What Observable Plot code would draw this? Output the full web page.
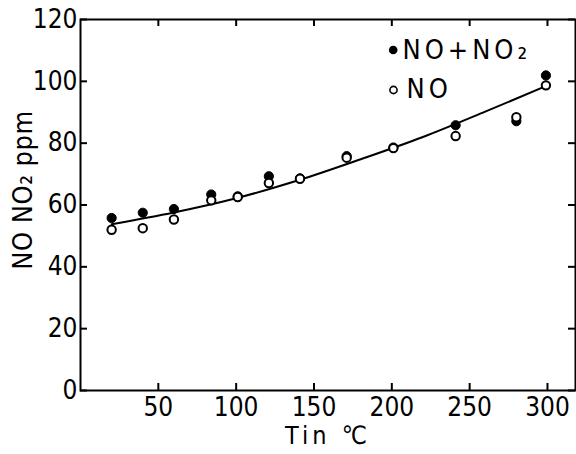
<!DOCTYPE html>
<html>
<head>
<meta charset="utf-8">
<script src="https://cdn.jsdelivr.net/npm/d3@7"></script>
<script src="https://cdn.jsdelivr.net/npm/@observablehq/plot@0.6"></script>
<style>
  html, body { margin: 0; padding: 0; background: #fff; }
  #chart svg { display: block; }
  .sp4 text, text.sp4 { letter-spacing: 4px; }
  .sp1 text, text.sp1 { letter-spacing: 0.5px; }
</style>
</head>
<body>
<div id="chart"></div>
<script>
// Data
const temps   = [20, 40, 60, 84, 101, 121, 141, 171, 201, 241, 280, 299];
const noTotal = [55.8, 57.5, 58.7, 63.4, 62.8, 69.3, 68.6, 75.8, 78.6, 85.8, 87.1, 101.9]; // NO+NO2 (filled)
const noOnly  = [52.0, 52.5, 55.3, 61.5, 62.6, 67.1, 68.5, 75.3, 78.4, 82.3, 88.4, 98.7];  // NO (open)
const fitX = [20, 60, 100, 140, 180, 220, 260, 300];
const fitY = [53.8, 57.6, 62.2, 68.0, 74.8, 82.0, 90.2, 98.7];
const xTicks = [50, 100, 150, 200, 250, 300];
const yTicks = [0, 20, 40, 60, 80, 100, 120];
const legendLabels = ["NO+NO₂", "NO"];
const yLabel = "NO NO₂ ppm";
const xLabel = "Tin ℃";

const totalData = temps.map((t, i) => ({t, v: noTotal[i]}));
const noData = temps.map((t, i) => ({t, v: noOnly[i]}));
const fitData = fitX.map((t, i) => ({t, v: fitY[i]}));

const W = 576, H = 454, mL = 80, mR = 1, mT = 19, mB = 64;
const frameW = W - mL - mR, frameH = H - mT - mB, tick = 7;

const font = "'DejaVu Sans Condensed', 'DejaVu Sans', sans-serif";

const chart = Plot.plot({
  width: W,
  height: H,
  marginLeft: mL,
  marginRight: mR,
  marginTop: mT,
  marginBottom: mB,
  style: {fontFamily: font, fontSize: "26px", color: "#000", background: "#fff"},
  x: {domain: [0, 318]},
  y: {domain: [0, 120]},
  marks: [
    Plot.frame({stroke: "#000", strokeWidth: 2}),
    Plot.axisX({ticks: xTicks, tickSize: 0, tickPadding: 7, label: null, fontSize: 26}),
    Plot.axisY({ticks: yTicks, tickSize: 0, tickPadding: 3, label: null, fontSize: 26}),
    // inward ticks on all four sides
    Plot.tickX(xTicks, {x: d => d, insetTop: frameH - tick, stroke: "#000", strokeWidth: 2}),
    Plot.tickX(xTicks, {x: d => d, insetBottom: frameH - tick, stroke: "#000", strokeWidth: 2}),
    Plot.tickY(yTicks, {y: d => d, insetRight: frameW - tick, stroke: "#000", strokeWidth: 2}),
    Plot.tickY(yTicks, {y: d => d, insetLeft: frameW - tick, stroke: "#000", strokeWidth: 2}),
    Plot.line(fitData, {x: "t", y: "v", curve: "catmull-rom", stroke: "#000", strokeWidth: 2}),
    Plot.dot(totalData, {x: "t", y: "v", r: 4.6, fill: "#000", stroke: "#000", strokeWidth: 1}),
    Plot.dot(noData, {x: "t", y: "v", r: 4.2, fill: "#fff", stroke: "#000", strokeWidth: 2}),
    // legend
    Plot.dot([legendLabels[0]], {frameAnchor: "top-left", dx: 312.7, dy: 30.5, r: 4.3, fill: "#000"}),
    Plot.text([legendLabels[0]], {frameAnchor: "top-left", dx: 322, dy: 31, text: d => d, textAnchor: "start", lineAnchor: "middle", fontSize: 27, className: "sp4"}),
    Plot.dot([legendLabels[1]], {frameAnchor: "top-left", dx: 313, dy: 70.5, r: 3.6, fill: "#fff", stroke: "#000", strokeWidth: 1.6}),
    Plot.text([legendLabels[1]], {frameAnchor: "top-left", dx: 326, dy: 70, text: d => d, textAnchor: "start", lineAnchor: "middle", fontSize: 27, className: "sp4"}),
    // axis titles
    Plot.text([xLabel], {frameAnchor: "bottom", dy: 45, text: d => d, textAnchor: "middle", lineAnchor: "middle", fontSize: 25, className: "sp4"}),
    Plot.text([yLabel], {frameAnchor: "left", dx: -57, dy: -15, rotate: -90, text: d => d, textAnchor: "middle", lineAnchor: "middle", fontSize: 27, className: "sp1"})
  ]
});
document.getElementById("chart").appendChild(chart);
</script>
</body>
</html>
